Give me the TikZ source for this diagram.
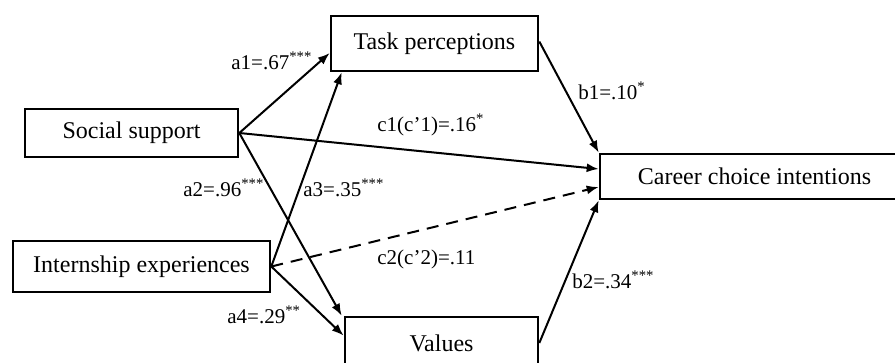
\documentclass[tikz,border=0pt]{standalone}
\usepackage{fontspec}
\setmainfont{Liberation Serif}
\usetikzlibrary{arrows.meta,calc,positioning}
\tikzset{
  var/.style={
    shape = rectangle,
    draw,
    line width = 1.3pt,
    inner sep = 0pt,
    font = \fontsize{12}{14}\selectfont
  },
}
\tikzset{
  link/.style={
    line width = 1pt,
    -{Latex[length=6pt,width=4.5pt]}
  },
  coef/.style={
    anchor = west,
    inner sep = 0pt,
    font = \fontsize{10.5}{12}\selectfont
  },
}
\begin{document}
\begin{tikzpicture}[x=0.5pt,y=-0.5pt]
    \clip (0,0) rectangle (895,363);
    \useasboundingbox (0,0) rectangle (895,363);

    % variables
    \node[var, minimum width=103.5pt, minimum height=27.5pt] (tp) at (434.5,43.5) {Task perceptions};
    \node[var, minimum width=106.5pt, minimum height=24pt]   (ss) at (131.5,133) {Social support};
    \node[var, minimum width=128.5pt, minimum height=25.5pt] (ie) at (141.5,266.5) {Internship experiences};
    \node[var, minimum width=96.5pt,  minimum height=26pt]   (vl) at (441.5,343) {Values};
    \node[var, minimum width=154.5pt, minimum height=22.5pt] (cc) at (754.5,176.5) {Career choice intentions};

    % paths
    \draw[link] (ss.east) -- ($(tp.west)+(0,9.5)$);
    \draw[link] (ie.east) -- ($(tp.south west)+(12,0)$);
    \draw[link] (ss.east) -- ($(vl.north west)+(-2,0)$);
    \draw[link] (ie.east) -- ($(vl.north west)+(0,20)$);
    \draw[link] (ss.east) -- ($(cc.west)+(0,-7.5)$);
    \draw[link, dash pattern=on 6pt off 4pt] (ie.east) -- ($(cc.west)+(0,10.5)$);
    \draw[link] ($(tp.east)+(0,-2)$) -- (cc.north west);
    \draw[link] (vl.east) -- (cc.south west);

    % coefficients
    \node[coef] (ka1) at (231,61)  {a1=.67\textsuperscript{***}};
    \node[coef] (kc1) at (377,125) {c1(c’1)=.16\textsuperscript{*}};
    \node[coef] (kb1) at (578,91)  {b1=.10\textsuperscript{*}};
    \node[coef] (ka2) at (183,188) {a2=.96\textsuperscript{***}};
    \node[coef] (ka3) at (303,188) {a3=.35\textsuperscript{***}};
    \node[coef] (kc2) at (377,259) {c2(c’2)=.11};
    \node[coef] (ka4) at (227,315) {a4=.29\textsuperscript{**}};
    \node[coef] (kb2) at (572,280) {b2=.34\textsuperscript{***}};
\end{tikzpicture}
\end{document}
